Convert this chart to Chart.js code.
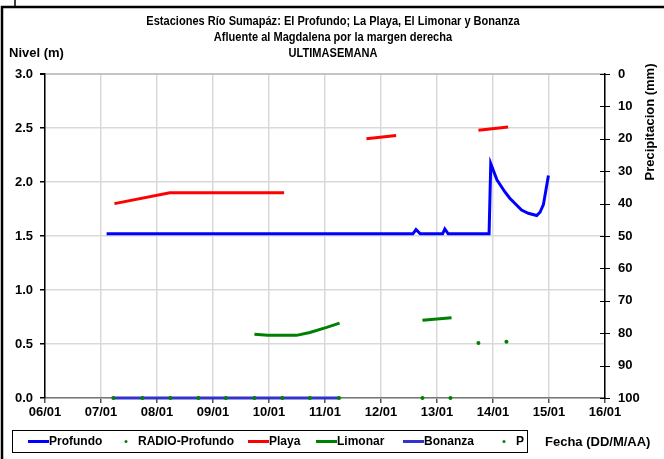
<!DOCTYPE html>
<html>
<head>
<meta charset="utf-8">
<script src="https://cdn.jsdelivr.net/npm/chart.js@4"></script>
<style>
  html, body { margin: 0; padding: 0; background: #fff; }
  #wrap { width: 664px; height: 459px; }
</style>
</head>
<body>
<div id="wrap"><canvas id="grafico" width="664" height="459"></canvas></div>
<script>
// etiquetas del eje de fechas (dia 0 = 06/01)
const fechas = ['06/01', '07/01', '08/01', '09/01', '10/01', '11/01', '12/01', '13/01', '14/01', '15/01', '16/01'];

// Profundo (nivel, m)
const profundoX = [1.10, 6.57, 6.625, 6.70, 7.10, 7.14, 7.20, 7.93, 7.96, 8.07, 8.21, 8.30, 8.51, 8.63, 8.78, 8.84, 8.90, 8.99];
const profundoY = [1.52, 1.52, 1.56, 1.52, 1.52, 1.565, 1.52, 1.52, 2.17, 2.02, 1.91, 1.85, 1.74, 1.71, 1.69, 1.72, 1.79, 2.06];

// RADIO-Profundo (puntos)
const radioX = [1.22, 1.74, 2.24, 2.74, 3.23, 3.74, 4.24, 4.73, 5.25, 6.74, 7.24, 7.74, 8.24];
const radioY = [0, 0, 0, 0, 0, 0, 0, 0, 0, 0, 0, 0.51, 0.52];

// Playa (null = sin datos)
const playaX = [1.24, 2.23, 2.50, 4.27, 5.00, 5.74, 6.27, 7.50, 7.74, 8.27];
const playaY = [1.80, 1.90, 1.90, 1.90, null, 2.40, 2.43, null, 2.48, 2.51];

// Limonar
const limonarX = [3.74, 3.98, 4.49, 4.73, 5.03, 5.26, 6.00, 6.74, 7.26];
const limonarY = [0.59, 0.58, 0.58, 0.607, 0.654, 0.694, null, 0.72, 0.743];

// Bonanza
const bonanzaX = [1.22, 5.25];
const bonanzaY = [0, 0];

// Precipitacion (mm) - sin registros
const pX = [];
const pY = [];

const nivelTicks = [0, 0.5, 1.0, 1.5, 2.0, 2.5, 3.0];
const precTicks = [0, 10, 20, 30, 40, 50, 60, 70, 80, 90, 100];

const FUENTE = "'Liberation Sans', Arial, sans-serif";

function pares(xs, ys) {
  return xs.map((x, i) => ({ x: x, y: ys[i] }));
}

// Titulos, marco y leyenda dibujados a mano
const textosPlugin = {
  id: 'textos',
  beforeDraw(chart) {
    const ctx = chart.ctx;
    ctx.save();
    ctx.fillStyle = '#fff';
    ctx.fillRect(0, 0, chart.width, chart.height);
    ctx.restore();
  },
  afterDraw(chart) {
    const ctx = chart.ctx;
    ctx.save();

    // marco exterior
    ctx.strokeStyle = '#000';
    ctx.lineWidth = 2.5;
    ctx.beginPath();
    ctx.moveTo(2, 459);
    ctx.lineTo(2, 7);
    ctx.lineTo(664, 7);
    ctx.stroke();
    ctx.lineWidth = 1.5;
    ctx.beginPath();
    ctx.moveTo(15, 0);
    ctx.lineTo(15, 7);
    ctx.stroke();

    // titulo (comprimido horizontalmente)
    ctx.fillStyle = '#000';
    ctx.font = 'bold 13px ' + FUENTE;
    ctx.textBaseline = 'middle';
    ctx.textAlign = 'center';
    const lineas = [
      ['Estaciones Río Sumapáz: El Profundo; La Playa, El Limonar y Bonanza', 21],
      ['Afluente al Magdalena por la margen derecha', 37],
      ['ULTIMASEMANA', 53]
    ];
    lineas.forEach(([t, y]) => {
      ctx.save();
      ctx.translate(333, y);
      ctx.scale(0.85, 1);
      ctx.fillText(t, 0, 0);
      ctx.restore();
    });

    // titulos de ejes
    ctx.textAlign = 'left';
    ctx.fillText('Nivel (m)', 9, 53);
    ctx.fillText('Fecha (DD/M/AA)', 545, 442);
    ctx.save();
    ctx.translate(650, 122);
    ctx.rotate(-Math.PI / 2);
    ctx.textAlign = 'center';
    ctx.fillText('Precipitacion (mm)', 0, 0);
    ctx.restore();

    // marcas cruzadas del eje derecho
    const y2 = chart.scales.y2;
    ctx.strokeStyle = '#000';
    ctx.lineWidth = 1;
    precTicks.forEach(v => {
      const py = Math.round(y2.getPixelForValue(v)) + 0.5;
      ctx.beginPath();
      ctx.moveTo(y2.left - 5, py);
      ctx.lineTo(y2.left + 5, py);
      ctx.stroke();
    });

    // leyenda
    ctx.lineWidth = 1;
    ctx.strokeStyle = '#000';
    ctx.strokeRect(12.5, 430.5, 515, 22);
    ctx.font = 'bold 12px ' + FUENTE;
    const pos = [28, 126, 248, 316, 403, 504];
    chart.data.datasets.forEach((ds, i) => {
      const x0 = pos[i];
      const yc = 441.5;
      if (ds.showLine === false) {
        ctx.fillStyle = ds.pointBackgroundColor;
        ctx.beginPath();
        ctx.arc(x0, yc, 1.5, 0, Math.PI * 2);
        ctx.fill();
        ctx.fillStyle = '#000';
        ctx.fillText(ds.label, x0 + 12, yc);
      } else {
        ctx.strokeStyle = ds.borderColor;
        ctx.lineWidth = 3;
        ctx.beginPath();
        ctx.moveTo(x0, yc);
        ctx.lineTo(x0 + 21, yc);
        ctx.stroke();
        ctx.fillStyle = '#000';
        ctx.fillText(ds.label, x0 + 21, yc);
      }
    });

    ctx.restore();
  }
};

new Chart(document.getElementById('grafico'), {
  type: 'line',
  data: {
    datasets: [
      { label: 'Profundo', data: pares(profundoX, profundoY), borderColor: '#0000ff', borderWidth: 3, yAxisID: 'y' },
      { label: 'RADIO-Profundo', data: pares(radioX, radioY), showLine: false, pointRadius: 2, pointBackgroundColor: '#008000', pointBorderWidth: 0, yAxisID: 'y' },
      { label: 'Playa', data: pares(playaX, playaY), borderColor: '#ff0000', borderWidth: 3, yAxisID: 'y' },
      { label: 'Limonar', data: pares(limonarX, limonarY), borderColor: '#008000', borderWidth: 3, yAxisID: 'y' },
      { label: 'Bonanza', data: pares(bonanzaX, bonanzaY), borderColor: '#3333cc', borderWidth: 3, yAxisID: 'y' },
      { label: 'P', data: pares(pX, pY), showLine: false, pointRadius: 1.5, pointBackgroundColor: '#008000', pointBorderWidth: 0, yAxisID: 'y2' }
    ]
  },
  options: {
    responsive: false,
    animation: false,
    parsing: true,
    spanGaps: false,
    elements: {
      point: { radius: 0 },
      line: { tension: 0, borderCapStyle: 'butt' }
    },
    datasets: { line: { clip: 4 } },
    layout: { padding: { top: 74, left: 0, right: 0, bottom: 0 } },
    plugins: {
      legend: { display: false },
      title: { display: false },
      tooltip: { enabled: false }
    },
    scales: {
      x: {
        type: 'linear',
        min: 0,
        max: 10,
        afterFit: s => { s.height = 61; },
        afterBuildTicks: s => { s.ticks = fechas.map((f, i) => ({ value: i })); },
        ticks: {
          autoSkip: false,
          maxRotation: 0,
          padding: 2,
          color: '#000',
          font: { family: FUENTE, size: 13, weight: 'bold' },
          callback: v => fechas[v]
        },
        grid: { color: '#d9d9d9', lineWidth: 1.5, tickLength: 5, tickColor: '#555' },
        border: { color: '#777', width: 1.5 }
      },
      y: {
        position: 'left',
        min: 0,
        max: 3,
        afterFit: s => { s.width = 45; },
        afterBuildTicks: s => { s.ticks = nivelTicks.map(v => ({ value: v })); },
        ticks: {
          padding: 7,
          color: '#000',
          font: { family: FUENTE, size: 13, weight: 'bold' },
          callback: v => v.toFixed(1)
        },
        grid: {
          color: c => (c.tick && c.tick.value === 3 ? '#c4c4c4' : '#d9d9d9'),
          lineWidth: c => (c.tick && c.tick.value === 3 ? 2 : 1.5),
          tickLength: 5,
          tickColor: '#000'
        },
        border: { color: '#000', width: 1.5 }
      },
      y2: {
        position: 'right',
        reverse: true,
        min: 0,
        max: 100,
        afterFit: s => { s.width = 59; },
        afterBuildTicks: s => { s.ticks = precTicks.map(v => ({ value: v })); },
        ticks: {
          padding: 8,
          color: '#000',
          font: { family: FUENTE, size: 13, weight: 'bold' }
        },
        grid: { drawOnChartArea: false, tickLength: 5, tickColor: 'rgba(0,0,0,0)' },
        border: { color: '#000', width: 1.5 }
      }
    }
  },
  plugins: [textosPlugin]
});
</script>
</body>
</html>
